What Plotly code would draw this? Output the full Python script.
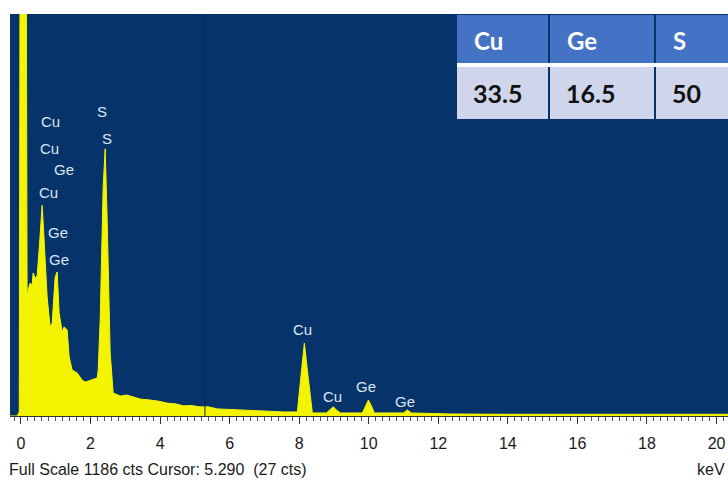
import plotly.graph_objects as go

# ---- spectrum data (energy in keV, counts) ----
energy_kev = [-0.40, -0.11, -0.05, -0.025, 0.148, 0.176, 0.205, 0.263, 0.32, 0.349, 0.407, 0.464,
              0.522, 0.579, 0.608, 0.637, 0.694, 0.752, 0.838, 0.896, 0.982, 1.04, 1.097, 1.184,
              1.241, 1.327, 1.385, 1.471, 1.615, 1.759, 1.845, 1.989, 2.133, 2.19, 2.22, 2.277,
              2.363, 2.421, 2.478, 2.565, 2.651, 2.853, 3.04, 3.227, 3.428, 3.716, 3.94, 4.205,
              4.44, 4.666, 4.89, 5.155, 5.39, 5.644, 6.09, 6.594, 7.09, 7.543, 7.946, 8.061, 8.148,
              8.234, 8.378, 8.78, 8.896, 8.982, 9.068, 9.184, 9.817, 9.903, 9.989, 10.076, 10.16,
              10.996, 11.11, 11.227, 12.35, 14.0, 16.0, 18.0, 20.4]
counts = [0, 0, 12, 1500, 1500, 342, 372, 392, 386, 422, 407, 413,
          490, 593, 622, 572, 445, 351, 263, 274, 410, 425, 304, 248,
          263, 254, 174, 136, 127, 106, 100, 106, 112, 112, 136, 283,
          676, 788, 578, 186, 68, 59, 62, 56, 50, 47, 44, 38,
          36, 30, 31, 27, 27, 21, 19, 15, 14, 12, 12, 136, 215,
          136, 9, 9, 18, 27, 18, 9, 9, 30, 47, 30, 9,
          9, 18, 9, 6, 5, 5, 5, 5]

full_scale = 1186
cursor_kev = 5.290
cursor_cts = 27

# peak labels: element, energy (keV), count level
peak_names = ["Cu", "Cu", "Ge", "Cu", "Ge", "Ge", "S", "S", "Cu", "Cu", "Ge", "Ge"]
peak_kev = [0.84, 0.81, 1.24, 0.78, 1.07, 1.10, 2.34, 2.46, 8.09, 8.95, 9.93, 11.05]
peak_cts = [870, 790, 727, 659, 540, 463, 897, 818, 254, 59, 88, 44]

# composition table
elements = ["Cu", "Ge", "S"]
at_percent = ["33.5", "16.5", "50"]

x_ticks = list(range(0, 21, 2))

BG = "#07336B"
YEL = "#F4F400"
W, H = 728, 483
ML, MR, MT, MB = 10, 0, 14, 67

fig = go.Figure()
fig.add_trace(go.Scatter(x=energy_kev, y=counts, mode="lines", fill="tozeroy",
                         line=dict(color=YEL, width=1), fillcolor=YEL,
                         hoverinfo="skip", showlegend=False))

NARROW = "Liberation Sans Narrow, Arial Narrow, Liberation Sans, Arial"
label_font = dict(family=NARROW, size=15, color="#DCE6F2")
annotations = []
for n, xk, yc in zip(peak_names, peak_kev, peak_cts):
    annotations.append(dict(x=xk, y=yc, xref="x", yref="y", text=n, showarrow=False,
                            font=label_font, xanchor="center", yanchor="middle"))

# helpers for overlay placement (window pixel -> paper)
pw, ph = W - ML - MR, H - MT - MB
def px(xp):
    return (xp - ML) / pw
def py(yp):
    return (H - MB - yp) / ph

shapes = []
col_edges = [(457, 548), (550, 654), (656, 740)]
head_y = (15, 63)
row_y = (67, 119)
TABLE_FONT = "Lato, Open Sans, Arial"
for i, (x0, x1) in enumerate(col_edges):
    shapes.append(dict(type="rect", xref="paper", yref="paper", x0=px(x0), x1=px(x1),
                       y0=py(head_y[1]), y1=py(head_y[0]), fillcolor="#4472C4",
                       line=dict(width=0), layer="above"))
    shapes.append(dict(type="rect", xref="paper", yref="paper", x0=px(x0), x1=px(x1),
                       y0=py(row_y[1]), y1=py(row_y[0]), fillcolor="#CFD5EA",
                       line=dict(width=0), layer="above"))
    annotations.append(dict(x=px(x0 + 15), y=py(40), xref="paper", yref="paper",
                            text="<b>%s</b>" % elements[i], showarrow=False,
                            xanchor="left", yanchor="middle",
                            font=dict(family=TABLE_FONT, size=24, color="white")))
    annotations.append(dict(x=px(x0 + 14), y=py(93), xref="paper", yref="paper",
                            text="<b>%s</b>" % at_percent[i], showarrow=False,
                            xanchor="left", yanchor="middle",
                            font=dict(family=TABLE_FONT, size=25, color="#111111")))
# white separator between header and data rows
shapes.append(dict(type="rect", xref="paper", yref="paper", x0=px(457), x1=px(740),
                   y0=py(67), y1=py(63), fillcolor="white", line=dict(width=0), layer="above"))

# cursor line
shapes.append(dict(type="line", xref="x", yref="paper", x0=cursor_kev, x1=cursor_kev,
                   y0=0, y1=1, line=dict(color="#0B2850", width=1), layer="above"))

bottom_font = dict(family=NARROW, size=16, color="#1A1A1A")
annotations.append(dict(x=px(7), y=py(469), xref="paper", yref="paper",
                        text="Full Scale %d cts Cursor: %.3f  (%d cts)" % (full_scale, cursor_kev, cursor_cts),
                        showarrow=False, xanchor="left", yanchor="middle", font=bottom_font))
annotations.append(dict(x=px(727), y=py(469), xref="paper", yref="paper", text="keV",
                        showarrow=False, xanchor="right", yanchor="middle", font=bottom_font))

fig.update_layout(
    width=W, height=H,
    margin=dict(l=ML, r=MR, t=MT, b=MB, pad=0),
    paper_bgcolor="white", plot_bgcolor=BG,
    xaxis=dict(range=[-0.316, 20.33], tickmode="array", tickvals=x_ticks,
               ticktext=[str(v) for v in x_ticks], ticks="outside", ticklen=7,
               tickcolor="#333333", tickwidth=1, showgrid=False, zeroline=False,
               showline=True, linecolor="#333333", linewidth=1,
               tickfont=dict(family=NARROW, size=16, color="#1A1A1A"),
               ticklabelstandoff=6,
               minor=dict(dtick=0.2, tick0=0, ticks="outside", ticklen=4, tickcolor="#555555",
                          showgrid=False)),
    yaxis=dict(range=[0, full_scale], visible=False, showgrid=False, zeroline=False),
    shapes=shapes, annotations=annotations,
)

fig.write_html("out.html", config=dict(displayModeBar=False),
               post_script="document.body.style.margin='0';document.body.style.overflow='hidden';")
